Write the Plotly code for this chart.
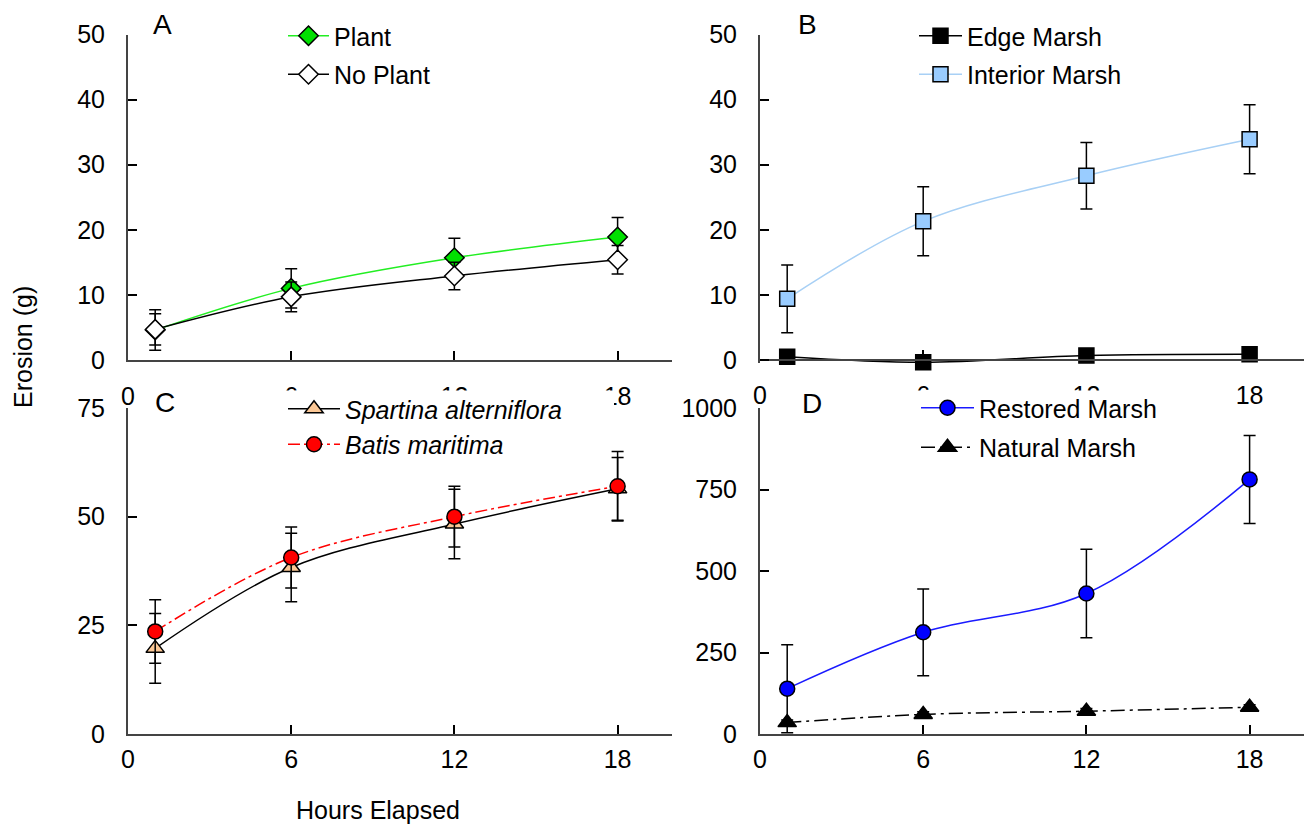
import plotly.graph_objects as go

W, H = 1307, 825
FONT = "Liberation Sans, Arial, sans-serif"

hours = [1, 6, 12, 18]
xticks = [0, 6, 12, 18]

# Panel A
plant = [4.6, 11.0, 15.7, 18.9]
plant_err = [3.1, 3.0, 3.0, 3.0]
noplant = [4.7, 9.7, 12.9, 15.4]
noplant_err = [2.4, 2.3, 2.1, 2.2]

# Panel B
edge = [0.5, -0.35, 0.7, 0.9]
edge_err = [0.5, 0.5, 0.5, 0.5]
interior = [9.4, 21.3, 28.3, 33.9]
interior_err = [5.2, 5.3, 5.1, 5.3]

# Panel C
spartina = [19.7, 38.3, 48.3, 56.4]
spartina_err = [8.0, 7.9, 8.0, 7.2]
batis = [23.6, 40.6, 50.0, 57.0]
batis_err = [7.3, 7.0, 7.0, 8.0]

# Panel D
restored = [139, 312, 431, 781]
restored_err = [135, 133, 136, 135]
natural = [35, 60, 70, 82]
natural_err = [8, 8, 8, 8]

fig = go.Figure()


def add(x, y, err, name, xa, ya, leg, sym, size, fill, lcolor, dash="solid"):
    fig.add_trace(go.Scatter(
        x=x, y=y, name=name, mode="lines+markers",
        xaxis=xa, yaxis=ya, legend=leg, legendgroup=name,
        line=dict(color=lcolor, width=1.5, shape="spline", smoothing=1, dash=dash),
        marker=dict(symbol=sym, size=size, color=fill, line=dict(color="black", width=1.5)),
        error_y=dict(type="data", array=err, visible=True, color="black", thickness=1.5, width=6),
        cliponaxis=False,
    ))


add(hours, plant, plant_err, "Plant", "x", "y", "legend", "diamond", 15, "#00e000", "#22ee22")
add(hours, noplant, noplant_err, "No Plant", "x", "y", "legend", "diamond", 15, "white", "black")
add(hours, edge, edge_err, "Edge Marsh", "x2", "y2", "legend2", "square", 15, "black", "black")
add(hours, interior, interior_err, "Interior Marsh", "x2", "y2", "legend2", "square", 15, "#99ccff", "#a8d0f5")
add(hours, spartina, spartina_err, "<i>Spartina alterniflora</i>", "x3", "y3", "legend3",
    "triangle-up", 16, "#fcc896", "black")
add(hours, batis, batis_err, "<i>Batis maritima</i>", "x3", "y3", "legend3",
    "circle", 15, "#ff0000", "#ff0000", dash="12px,4px,3px,4px")
add(hours, restored, restored_err, "Restored Marsh", "x4", "y4", "legend4",
    "circle", 15, "#0000ff", "#1a1aff")
add(hours, natural, natural_err, "Natural Marsh", "x4", "y4", "legend4",
    "triangle-up", 16, "black", "black", dash="14px,5px,3px,5px")


def px_x(p):
    return p / W


def px_y(p):
    return 1 - p / H


xl = [px_x(128), px_x(672)]
xr = [px_x(760), px_x(1304)]
yt = [px_y(360), px_y(34.5)]
yb = [px_y(734), px_y(408)]
# panel B: a little room below zero so the slightly negative Edge Marsh point stays drawn
yt_b = [px_y(360 + 0.5 * 325.5 / 50), px_y(34.5)]

axis_common = dict(
    showline=True, linecolor="#444", linewidth=2, ticks="inside", ticklen=9,
    tickwidth=1.5, tickcolor="black", showgrid=False, zeroline=False, automargin=False,
    tickfont=dict(family=FONT, size=25, color="black"),
)

xcommon = dict(axis_common, range=[0, 20], tickvals=xticks)
ycommon = dict(axis_common, ticklabelstandoff=16)

fig.update_layout(
    template="none",
    width=W, height=H, margin=dict(l=0, r=0, t=0, b=0, autoexpand=False),
    paper_bgcolor="white", plot_bgcolor="rgba(0,0,0,0)",
    font=dict(family=FONT, size=25, color="black"),
    xaxis=dict(xcommon, domain=xl, anchor="y", ticklabelstandoff=13),
    yaxis=dict(ycommon, domain=yt, range=[0, 50], tickvals=[0, 10, 20, 30, 40, 50], anchor="x"),
    xaxis2=dict(xcommon, domain=xr, anchor="free", position=yt[0], ticklabelstandoff=13),
    yaxis2=dict(ycommon, domain=yt_b, range=[-0.5, 50], tickvals=[0, 10, 20, 30, 40, 50], anchor="x2"),
    xaxis3=dict(xcommon, domain=xl, anchor="y3", ticklabelstandoff=2),
    yaxis3=dict(ycommon, domain=yb, range=[0, 75], tickvals=[0, 25, 50, 75], anchor="x3"),
    xaxis4=dict(xcommon, domain=xr, anchor="y4", ticklabelstandoff=2),
    yaxis4=dict(ycommon, domain=yb, range=[0, 1000], tickvals=[0, 250, 500, 750, 1000], anchor="x4"),
    showlegend=True,
)

leg_common = dict(xanchor="left", yanchor="top", bgcolor="rgba(0,0,0,0)", borderwidth=0,
                  font=dict(family=FONT, size=25, color="black"), traceorder="grouped")
fig.update_layout(
    legend=dict(leg_common, x=px_x(283), y=px_y(13), itemwidth=41, tracegroupgap=3),
    legend2=dict(leg_common, x=px_x(914), y=px_y(13), itemwidth=43, tracegroupgap=3),
    legend3=dict(leg_common, x=px_x(283), y=px_y(386), itemwidth=52, tracegroupgap=0),
    legend4=dict(leg_common, x=px_x(916), y=px_y(385), itemwidth=53, tracegroupgap=4),
)

# white areas of the lower panels' legends overlapping the upper tick labels
for x0, x1 in [(262, 614), (895, 1230)]:
    fig.add_shape(type="rect", xref="paper", yref="paper",
                  x0=px_x(x0), x1=px_x(x1), y0=px_y(420), y1=px_y(390.5),
                  fillcolor="white", line=dict(width=0), layer="above")

letters = [("A", 162, 25), ("B", 808, 25), ("C", 165, 402), ("D", 812, 403)]
for t, x, y in letters:
    fig.add_annotation(text=t, x=px_x(x), y=px_y(y), xref="paper", yref="paper",
                       xanchor="center", yanchor="middle",
                       showarrow=False, font=dict(family=FONT, size=28, color="black"))

fig.add_annotation(text="Erosion (g)", x=px_x(23), y=px_y(347), xref="paper", yref="paper",
                   xanchor="center", yanchor="middle",
                   showarrow=False, textangle=-90, font=dict(family=FONT, size=25, color="black"))
fig.add_annotation(text="Hours Elapsed", x=px_x(378), y=px_y(810), xref="paper", yref="paper",
                   xanchor="center", yanchor="middle",
                   showarrow=False, font=dict(family=FONT, size=25, color="black"))

fig.write_html("out.html")
